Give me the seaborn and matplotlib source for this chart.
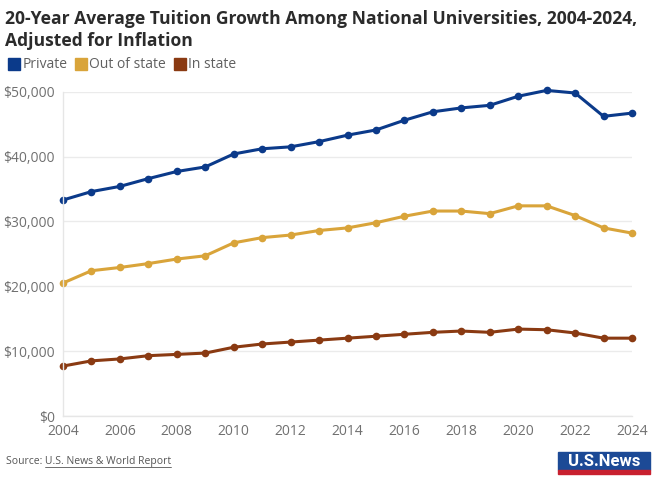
import matplotlib
matplotlib.use("Agg")
import matplotlib.pyplot as plt
import seaborn as sns
import pandas as pd
from matplotlib.lines import Line2D
from matplotlib.patches import Rectangle
from matplotlib.ticker import FuncFormatter

years = list(range(2004, 2025))
private = [33300, 34600, 35400, 36600, 37700, 38400, 40400, 41200, 41500, 42300,
           43300, 44100, 45600, 46900, 47500, 47900, 49300, 50200, 49800, 46200, 46700]
out_of_state = [20500, 22400, 22900, 23500, 24200, 24700, 26700, 27500, 27900, 28600,
                29000, 29800, 30800, 31600, 31600, 31200, 32400, 32400, 30900, 29000, 28200]
in_state = [7700, 8500, 8800, 9300, 9500, 9700, 10600, 11100, 11400, 11700,
            12000, 12300, 12600, 12900, 13100, 12900, 13400, 13300, 12800, 12000, 12000]
series_names = ["Private", "Out of state", "In state"]
colors = ["#0b3a8a", "#d9a43a", "#8a3a12"]
y_ticks = [0, 10000, 20000, 30000, 40000, 50000]
x_ticks = list(range(2004, 2025, 2))

df = pd.DataFrame({
    "Year": years * 3,
    "Tuition": private + out_of_state + in_state,
    "Type": [series_names[0]] * len(years) + [series_names[1]] * len(years) + [series_names[2]] * len(years),
})

sns.set_theme(style="white")
plt.rcParams["font.family"] = ["Open Sans", "DejaVu Sans"]

fig = plt.figure(figsize=(6.6, 4.86), dpi=100)
ax = fig.add_axes([63 / 660, 70 / 486, 569 / 660, 324.3 / 486])

sns.lineplot(data=df, x="Year", y="Tuition", hue="Type", palette=dict(zip(series_names, colors)),
             marker="o", markersize=5.5, markeredgewidth=0, linewidth=2.2, legend=False, ax=ax)
for line in ax.lines:
    line.set_clip_on(False)

ax.set_xlim(2004, 2024)
ax.set_ylim(0, 50000)
ax.set_yticks(y_ticks)
ax.set_xticks(x_ticks)
ax.yaxis.set_major_formatter(FuncFormatter(lambda v, p: f"${int(v):,}"))
ax.grid(axis="y", color="#ebebeb", linewidth=1)
ax.set_axisbelow(True)
for s in ["top", "right"]:
    ax.spines[s].set_visible(False)
for s in ["left", "bottom"]:
    ax.spines[s].set_color("#e6e6e6")
    ax.spines[s].set_linewidth(1)
ax.tick_params(axis="both", colors="#e0e0e0", labelcolor="#707070", labelsize=10,
               length=4, width=1, pad=2)
ax.set_xlabel("")
ax.set_ylabel("")

fig.text(0.008, 0.979, "20-Year Average Tuition Growth Among National Universities, 2004-2024,\nAdjusted for Inflation",
         ha="left", va="top", fontsize=12.6, fontweight="bold", color="#2b2b2b", linespacing=1.25)

handles = [Line2D([], [], marker="s", linestyle="", markersize=8, color=c) for c in colors]
fig.legend(handles, series_names, loc="upper left", bbox_to_anchor=(0.0, 0.899), ncol=3,
           frameon=False, fontsize=10, labelcolor="#606060", handletextpad=0.2,
           columnspacing=0.6, handlelength=0.8, borderaxespad=0.2)

src_y = 22 / 486
prefix = fig.text(6 / 660, src_y, "Source: ", ha="left", va="baseline", fontsize=7.5, color="#555555")
fig.canvas.draw()
r = fig.canvas.get_renderer()
bb = prefix.get_window_extent(r)
x0 = bb.x1 / fig.bbox.width
link = fig.text(x0, src_y, "U.S. News & World Report", ha="left", va="baseline", fontsize=7.5,
                color="#555555")
bb2 = link.get_window_extent(r)
fig.add_artist(Line2D([x0, bb2.x1 / fig.bbox.width], [src_y - 2.5 / 486, src_y - 2.5 / 486],
                      color="#555555", linewidth=0.6))

fig.add_artist(Rectangle((558 / 660, 16 / 486), 92 / 660, 18 / 486, color="#1c4a96"))
fig.add_artist(Rectangle((558 / 660, 12 / 486), 92 / 660, 4 / 486, color="#c8202f"))
fig.text(604 / 660, 25 / 486, "U.S.News", ha="center", va="center", fontsize=12,
         fontweight="bold", color="white", family=["Roboto", "DejaVu Sans"])

fig.savefig("out.png", dpi=100)
